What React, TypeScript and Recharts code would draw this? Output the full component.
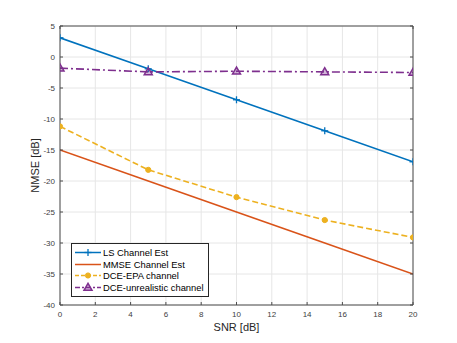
import React from 'react';
import { LineChart, Line, XAxis, YAxis, CartesianGrid, Legend } from 'recharts';

const snr = [0, 5, 10, 15, 20];
const lsValues = [3.1, -1.9, -6.9, -11.9, -16.9];
const mmseValues = [-15, -20, -25, -30, -35];
const epaValues = [-11.2, -18.2, -22.6, -26.3, -29.1];
const unrealValues = [-1.8, -2.4, -2.3, -2.4, -2.5];

const xTicks = [0, 2, 4, 6, 8, 10, 12, 14, 16, 18, 20];
const yTicks = [-40, -35, -30, -25, -20, -15, -10, -5, 0, 5];

const seriesNames = ['LS Channel Est', 'MMSE Channel Est', 'DCE-EPA channel', 'DCE-unrealistic channel'];
const colors = ['#0072BD', '#D95319', '#EDB120', '#7E2F8E'];
const dashes = [undefined, undefined, '6 3', '8 3 2 3'];

const data = snr.map((s, i) => ({
  snr: s,
  ls: lsValues[i],
  mmse: mmseValues[i],
  epa: epaValues[i],
  unreal: unrealValues[i],
}));

const FONT = '"Liberation Sans", Arial, Helvetica, sans-serif';

const PlusDot = (props: any) => {
  const { cx, cy } = props;
  if (cx == null || cy == null) return null;
  return (
    <g key={`p${cx}`}>
      <line x1={cx - 3.5} x2={cx + 3.5} y1={cy} y2={cy} stroke={colors[0]} strokeWidth={1.3} />
      <line x1={cx} x2={cx} y1={cy - 3.5} y2={cy + 3.5} stroke={colors[0]} strokeWidth={1.3} />
    </g>
  );
};

const CircleDot = (props: any) => {
  const { cx, cy } = props;
  if (cx == null || cy == null) return null;
  return <circle key={`c${cx}`} cx={cx} cy={cy} r={2.6} fill={colors[2]} stroke={colors[2]} />;
};

const TriDot = (props: any) => {
  const { cx, cy } = props;
  if (cx == null || cy == null) return null;
  return (
    <polygon
      key={`t${cx}`}
      points={`${cx},${cy - 4.2} ${cx - 4},${cy + 2.8} ${cx + 4},${cy + 2.8}`}
      fill={colors[3]}
      fillOpacity={0.35}
      stroke={colors[3]}
      strokeWidth={1.5}
    />
  );
};

const markerFor = (i: number, cx: number, cy: number) => {
  if (i === 0) return <PlusDot cx={cx} cy={cy} />;
  if (i === 2) return <CircleDot cx={cx} cy={cy} />;
  if (i === 3) return <TriDot cx={cx} cy={cy} />;
  return null;
};

const LegendBox = () => (
  <div
    style={{
      border: '1px solid #262626',
      background: '#fff',
      padding: '3px 4px 3px 2px',
      fontFamily: FONT,
      fontSize: 9.4,
      color: '#000',
      width: 138,
      boxSizing: 'border-box',
    }}
  >
    {seriesNames.map((n, i) => (
      <div key={n} style={{ display: 'flex', alignItems: 'center', height: 11.5, whiteSpace: 'nowrap' }}>
        <svg width={28} height={11} style={{ flex: 'none' }}>
          <line x1={1} x2={27} y1={5.5} y2={5.5} stroke={colors[i]} strokeWidth={1.5} strokeDasharray={i === 2 ? '4 2' : i === 3 ? '5 2 2 2' : undefined} />
          {markerFor(i, 14, 5.5)}
        </svg>
        <span style={{ marginLeft: 1 }}>{n}</span>
      </div>
    ))}
  </div>
);

const YLabel = (props: any) => {
  const vb = props.viewBox || { x: 0, y: 0, width: 0, height: 0 };
  const x = vb.x + 35;
  const y = vb.y + vb.height / 2;
  return (
    <text x={x} y={y} transform={`rotate(-90 ${x} ${y})`} textAnchor="middle" dominantBaseline="central" fontSize={11} fontFamily={FONT} fill="#262626">
      NMSE [dB]
    </text>
  );
};

export default function App() {
  return (
    <div style={{ position: 'absolute', left: 0, top: 0, width: 457, height: 343, background: '#fff' }}>
      <LineChart width={457} height={343} data={data} margin={{ top: 16, right: 34, bottom: 0, left: 0 }}>
        <CartesianGrid stroke="#e6e6e6" strokeWidth={1} />
        <XAxis
          dataKey="snr"
          type="number"
          domain={[0, 20]}
          ticks={xTicks}
          allowDataOverflow
          height={38}
          tickSize={-3}
          tickMargin={9}
          stroke="#4d4d4d"
          tick={{ fontSize: 8, fill: '#404040', fontFamily: FONT }}
          label={{ value: 'SNR [dB]', position: 'insideBottom', offset: 12, fontSize: 11, fill: '#262626', fontFamily: FONT }}
        />
        <XAxis
          xAxisId="top"
          orientation="top"
          type="number"
          domain={[0, 20]}
          ticks={xTicks}
          allowDataOverflow
          height={10}
          tickSize={-3}
          tickFormatter={() => ''}
          stroke="#4d4d4d"
        />
        <YAxis
          type="number"
          domain={[-40, 5]}
          ticks={yTicks}
          allowDataOverflow
          width={60}
          tickSize={-3}
          tickMargin={8}
          stroke="#4d4d4d"
          tick={{ fontSize: 8, fill: '#404040', fontFamily: FONT }}
          label={{ content: YLabel }}
        />
        <YAxis
          yAxisId="right"
          orientation="right"
          type="number"
          domain={[-40, 5]}
          ticks={yTicks}
          allowDataOverflow
          width={10}
          tickSize={-3}
          tickFormatter={() => ''}
          stroke="#4d4d4d"
        />
        <Line dataKey="ls" stroke={colors[0]} strokeWidth={1.6} dot={PlusDot} activeDot={false} isAnimationActive={false} />
        <Line dataKey="mmse" stroke={colors[1]} strokeWidth={1.6} dot={false} activeDot={false} isAnimationActive={false} />
        <Line dataKey="epa" stroke={colors[2]} strokeWidth={1.6} strokeDasharray={dashes[2]} dot={CircleDot} activeDot={false} isAnimationActive={false} />
        <Line dataKey="unreal" stroke={colors[3]} strokeWidth={1.6} strokeDasharray={dashes[3]} dot={TriDot} activeDot={false} isAnimationActive={false} />
        <Legend
          layout="vertical"
          verticalAlign="middle"
          align="center"
          content={LegendBox}
          wrapperStyle={{ left: 71, top: 243, width: 'auto', height: 'auto' }}
        />
      </LineChart>
    </div>
  );
}
